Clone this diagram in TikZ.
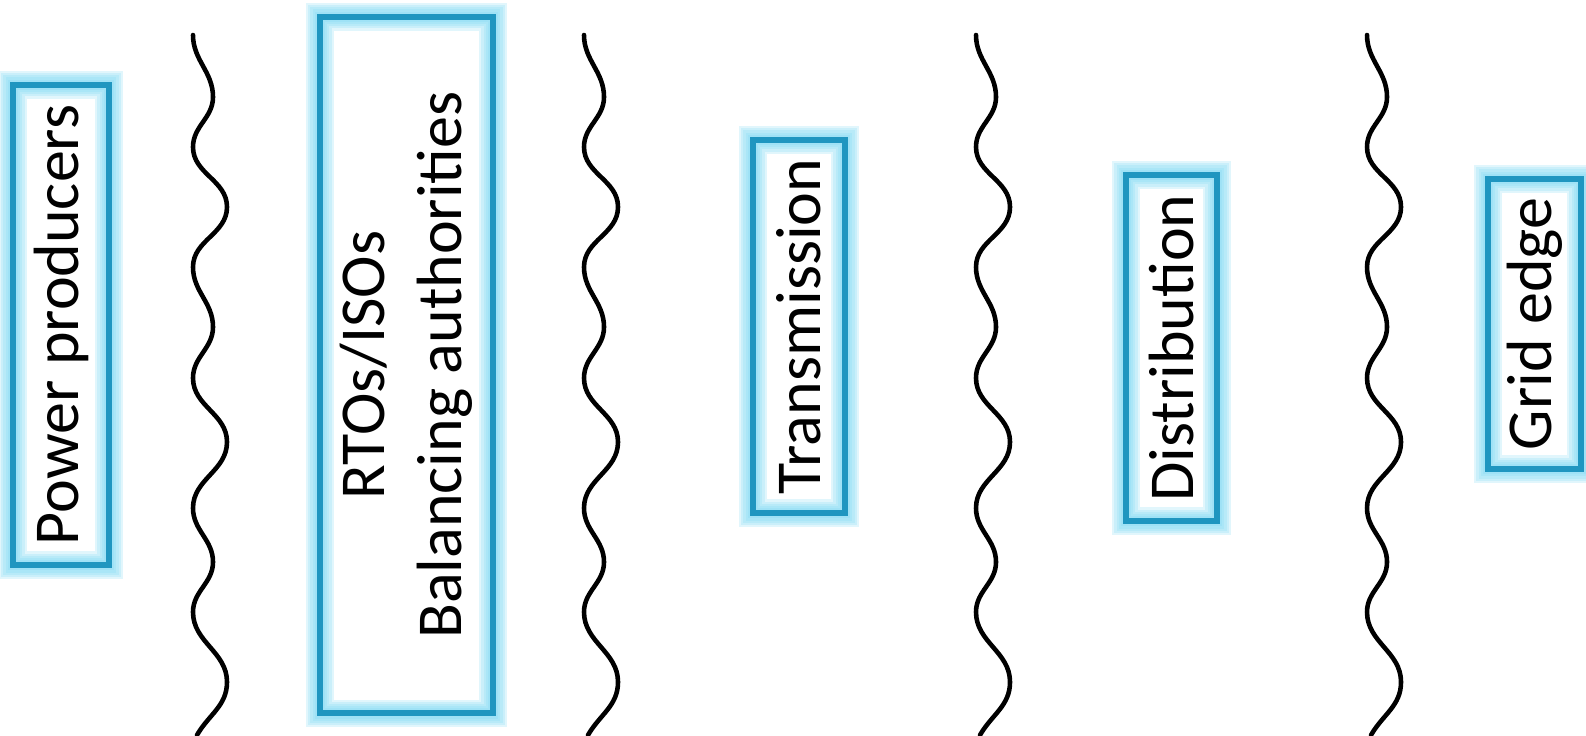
\documentclass[tikz,border=0pt]{standalone}
\usepackage{fontspec}
\setmainfont{Carlito}
\usepackage{tikz}

\definecolor{boxblue}{RGB}{31,150,192}
\definecolor{glowcyan}{RGB}{120,215,242}

\tikzset{
	actor/.style={shape=rectangle, draw=boxblue, line width=1.7pt, rotate=90,
		inner sep=0pt, align=center,
		preaction={draw=glowcyan, draw opacity=0.22, line width=7.8pt},
		preaction={draw=glowcyan, draw opacity=0.22, line width=6.6pt},
		preaction={draw=glowcyan, draw opacity=0.22, line width=5.4pt},
		preaction={draw=glowcyan, draw opacity=0.22, line width=4.2pt},
		preaction={draw=glowcyan, draw opacity=0.22, line width=3.0pt},
		font=\fontsize{18.2}{21.8}\selectfont},
	wave/.style={draw=black, line width=1.3pt, line cap=round},
}

\begin{document}
\begin{tikzpicture}[x=0.01cm, y=-0.01cm]
	
	\useasboundingbox (0,0) rectangle (1586,735);
	
	\node[actor, minimum width=4.80cm, minimum height=0.96cm] (prod) at (61, 325)     {Power producers};
	\node[actor, minimum width=6.96cm, minimum height=1.73cm] (rto)  at (406.5, 365)  {RTOs/ISOs\\Balancing authorities};
	\node[actor, minimum width=3.73cm, minimum height=0.92cm] (trans) at (799, 326.5) {Transmission};
	\node[actor, minimum width=3.46cm, minimum height=0.91cm] (dist) at (1171.5, 348) {Distribution};
	\node[actor, minimum width=2.90cm, minimum height=0.93cm] (edge) at (1534.5, 324) {Grid edge};
	
	% wavy separators
	\foreach \x in {193, 584, 976, 1367}
	\draw[wave] (\x,35) to[out=-90,in=90] (\x+20,97) to[out=-90,in=90] (\x,147)
		to[out=-90,in=90] (\x+34,207) to[out=-90,in=90] (\x,267)
		to[out=-90,in=90] (\x+20,327) to[out=-90,in=90] (\x,378)
		to[out=-90,in=90] (\x+34,442) to[out=-90,in=90] (\x,508)
		to[out=-90,in=90] (\x+20,562) to[out=-90,in=90] (\x,612)
		to[out=-90,in=90] (\x+34,682) to[out=-90,in=60] (\x+4,735);
	
\end{tikzpicture}
\end{document}
